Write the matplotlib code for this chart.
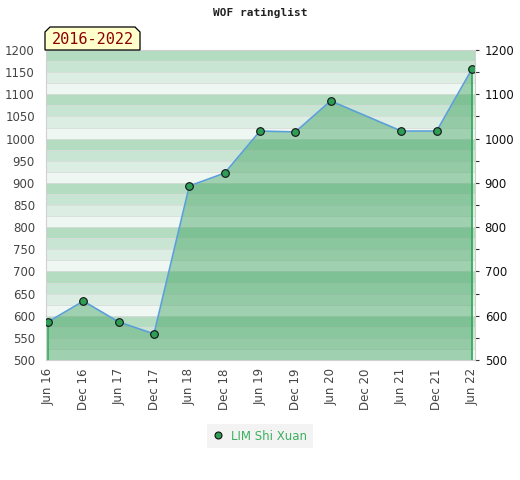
import matplotlib
matplotlib.use("Agg")
import matplotlib.pyplot as plt
from matplotlib.patches import Polygon
from matplotlib.lines import Line2D

tick_labels = ['Jun 16', 'Dec 16', 'Jun 17', 'Dec 17', 'Jun 18', 'Dec 18', 'Jun 19',
               'Dec 19', 'Jun 20', 'Dec 20', 'Jun 21', 'Dec 21', 'Jun 22']
point_idx = [0, 1, 2, 3, 4, 5, 6, 7, 8, 10, 11, 12]
ratings = [586, 633, 586, 559, 893, 922, 1017, 1015, 1085, 1017, 1017, 1157]
player = 'LIM Shi Xuan'
period = '2016-2022'

W, H = 520, 480
fig = plt.figure(figsize=(W / 100, H / 100), dpi=100)
ax = fig.add_axes([46 / W, 1 - 360 / H, (475 - 46) / W, (360 - 50) / H])

# striped background, 4 shades per 100 points
band_cols = ['#b3dcc1', '#c8e5d3', '#dcede3', '#eff7f2']
for base in range(500, 1200, 100):
    for k in range(4):
        top = base + 100 - 25 * k
        ax.axhspan(top - 25, top, color=band_cols[k], lw=0, zorder=0)
for yv in range(525, 1200, 25):
    ax.axhline(yv, color='#d9dcd9', lw=0.6, zorder=0.5)

ax.fill_between(point_idx, ratings, 500, color='#3fa15f', alpha=0.45, lw=0, zorder=1)
ax.vlines([point_idx[0], point_idx[-1]], 500, [ratings[0], ratings[-1]],
          color='#2eaa55', lw=1.2, zorder=2)
ax.plot(point_idx, ratings, color='#5b9fd8', lw=1.2, zorder=3)
ax.plot(point_idx, ratings, ls='none', marker='o', ms=5.5, mfc='#2e9e57',
        mec='#111111', mew=0.8, zorder=4)

ax.set_xlim(-2 / 35.33, 12 + 3 / 35.33)
ax.set_ylim(500, 1200)
ax.set_xticks(range(len(tick_labels)))
ax.set_xticklabels(tick_labels, rotation=90, fontsize=8.5, color='#444444')
ax.set_yticks(range(500, 1201, 50))
ax.tick_params(axis='y', labelsize=8.5, labelcolor='#444444', length=0, pad=8)
ax.tick_params(axis='x', length=0, pad=6)
for s in ['left', 'top', 'bottom']:
    ax.spines[s].set_color('#d0d0d0')
ax.spines['right'].set_visible(False)

ax2 = ax.twinx()
ax2.set_ylim(500, 1200)
ax2.set_yticks(range(500, 1201, 100))
ax2.set_yticks(range(550, 1200, 100), minor=True)
ax2.tick_params(axis='y', which='both', length=3, width=0.8, color='#333333',
                labelsize=8.5, labelcolor='#111111', pad=4)
for s in ['left', 'top', 'bottom']:
    ax2.spines[s].set_visible(False)
ax2.spines['right'].set_color('#d0d0d0')

fig.text(260 / W, 1 - 13 / H, 'WOF ratinglist', ha='center', va='center',
         fontsize=8, fontweight='bold', family='DejaVu Sans Mono', color='#222222')

# period badge with clipped top corners
bx0, bx1, by0, by1, c = 45, 140, 27, 50, 5
pts = [(bx0, by1), (bx0, by0 + c), (bx0 + c, by0), (bx1 - c, by0), (bx1, by0 + c), (bx1, by1)]
fig.patches.append(Polygon([(x / W, 1 - y / H) for x, y in pts], closed=True,
                           transform=fig.transFigure, fc='#ffffcc', ec='#000000', lw=0.9))
fig.text((bx0 + bx1) / 2 / W, 1 - 39.5 / H, period, ha='center', va='center',
         fontsize=11, family='DejaVu Sans Mono', color='#8b0000')

handle = Line2D([], [], ls='none', marker='o', ms=5, mfc='#2e9e57', mec='#111111', mew=0.8)
leg = fig.legend([handle], [player], loc='center', bbox_to_anchor=(260 / W, 1 - 436 / H),
                 fontsize=8.5, frameon=True, fancybox=False, handlelength=1,
                 handletextpad=0.6, borderpad=0.45)
leg.get_frame().set_facecolor('#f0f0f0')
leg.get_frame().set_edgecolor('none')
for t in leg.get_texts():
    t.set_color('#3cb060')

fig.savefig('out.png', dpi=100)
